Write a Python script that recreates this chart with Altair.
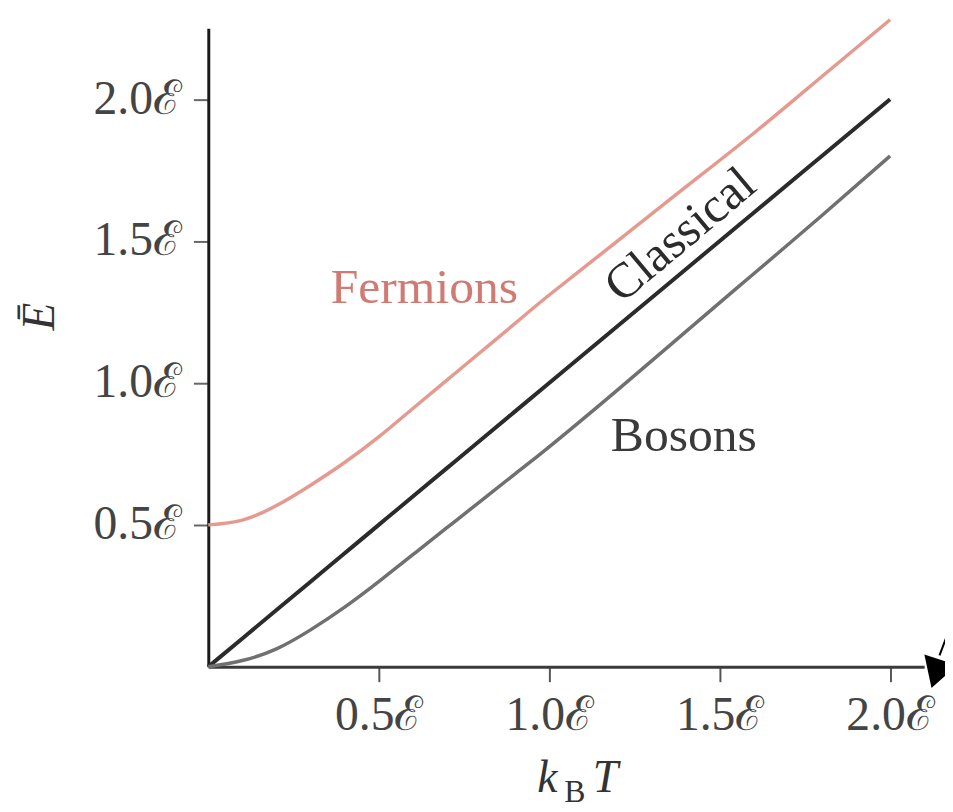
import altair as alt
import pandas as pd

# --- data -------------------------------------------------------------------
kT = [0.0, 0.1, 0.2, 0.3, 0.4, 0.5, 0.6, 0.7, 0.8, 0.9, 1.0, 1.2, 1.4, 1.6, 1.8, 2.0]
fermions = [0.50, 0.517, 0.568, 0.64, 0.72, 0.81, 0.91, 1.01, 1.11, 1.21, 1.31, 1.50, 1.69, 1.88, 2.08, 2.28]
classical = [0.0, 0.1, 0.2, 0.3, 0.4, 0.5, 0.6, 0.7, 0.8, 0.9, 1.0, 1.2, 1.4, 1.6, 1.8, 2.0]
bosons = [0.0, 0.022, 0.063, 0.13, 0.21, 0.30, 0.395, 0.49, 0.585, 0.68, 0.775, 0.975, 1.18, 1.385, 1.59, 1.80]

tick_values = [0.5, 1.0, 1.5, 2.0]

label_text = ["Fermions", "Classical", "Bosons"]
label_x = [0.634, 1.413, 1.395]
label_y = [1.283, 1.48, 0.759]

FONT = "Liberation Serif"

df = pd.DataFrame({
    "kT": kT * 3,
    "E": fermions + classical + bosons,
    "series": ["Fermions"] * len(kT) + ["Classical"] * len(kT) + ["Bosons"] * len(kT),
})

xs = alt.Scale(domain=[0, 2.1], nice=False, zero=False)
ys = alt.Scale(domain=[0, 2.25], nice=False, zero=False)

x_axis = alt.Axis(
    values=tick_values, labelExpr="format(datum.value, '.1f') + 'ℰ'",
    title=None, grid=False, tickSize=15, tickWidth=2, tickColor="#555",
    domainColor="#3a3a3a", domainWidth=3, labelFont=FONT, labelFontSize=48,
    labelColor="#444", labelPadding=10,
)
y_axis = alt.Axis(
    values=tick_values, labelExpr="format(datum.value, '.1f') + 'ℰ'",
    title=None, grid=False, tickSize=15, tickWidth=2, tickColor="#666",
    domainColor="#1a1a1a", domainWidth=3, labelFont=FONT, labelFontSize=48,
    labelColor="#444", labelPadding=12,
)

def line(name, color, width):
    return alt.Chart(df).transform_filter(alt.datum.series == name).mark_line(
        color=color, strokeWidth=width, interpolate="natural"
    ).encode(
        x=alt.X("kT:Q", scale=xs, axis=x_axis),
        y=alt.Y("E:Q", scale=ys, axis=y_axis),
    )

l_f = line("Fermions", "#e59a90", 3.5)
l_c = line("Classical", "#2b2b2b", 4)
l_b = line("Bosons", "#707070", 3.5)

ann = pd.DataFrame({"x": label_x, "y": label_y, "t": label_text})

def label(name, color, angle=0):
    return alt.Chart(ann).transform_filter(alt.datum.t == name).mark_text(
        font=FONT, fontSize=50, color=color, align="center", baseline="alphabetic", angle=angle
    ).encode(x=alt.X("x:Q", scale=xs), y=alt.Y("y:Q", scale=ys), text="t:N")

t_f = label("Fermions", "#cf7a72")
t_c = label("Classical", "#2b2b2b", 320)
t_b = label("Bosons", "#3a3a3a")

# axis titles as text marks
title_text = ["k", "B", "T", "Ē"]
title_x = [0.995, 1.075, 1.165, -0.494]
title_y = [-0.441, -0.476, -0.441, 1.234]
titles = pd.DataFrame({"x": title_x, "y": title_y, "t": title_text})

def title_mark(name, size, italic=True):
    return alt.Chart(titles).transform_filter(alt.datum.t == name).mark_text(
        font=FONT, fontSize=size, color="#333", align="center", baseline="alphabetic",
        fontStyle="italic" if italic else "normal",
    ).encode(x=alt.X("x:Q", scale=xs), y=alt.Y("y:Q", scale=ys), text="t:N")

t_k = title_mark("k", 46)
t_B = title_mark("B", 32, italic=False)
t_T = title_mark("T", 46)
t_E = alt.Chart(titles).transform_filter(alt.datum.t == "Ē").mark_text(
    font=FONT, fontSize=46, color="#333", align="center", baseline="middle",
    fontStyle="italic", angle=270,
).encode(x=alt.X("x:Q", scale=xs), y=alt.Y("y:Q", scale=ys), text="t:N")

# arrow fragment at the end of the x axis
arrow_head = pd.DataFrame({"x": [2.135], "y": [-0.025]})
arrow_line = pd.DataFrame({"x": [2.145], "y": [0.04], "x2": [2.17], "y2": [0.12]})
a_head = alt.Chart(arrow_head).mark_point(
    shape="triangle-down", filled=True, color="black", size=1200, angle=18, opacity=1
).encode(x=alt.X("x:Q", scale=xs), y=alt.Y("y:Q", scale=ys))
a_line = alt.Chart(arrow_line).mark_rule(color="black", strokeWidth=2).encode(
    x=alt.X("x:Q", scale=xs), y=alt.Y("y:Q", scale=ys), x2="x2:Q", y2="y2:Q"
)

chart = alt.layer(l_f, l_c, l_b, t_f, t_c, t_b, t_k, t_B, t_T, t_E, a_head, a_line).properties(
    width=722, height=644,
    autosize=alt.AutoSizeParams(type="none"),
    padding={"left": 202, "top": 17, "right": 21, "bottom": 140},
    background="white",
).configure_view(stroke=None)

chart.save("out.html", embed_options={"renderer": "svg", "actions": False})
